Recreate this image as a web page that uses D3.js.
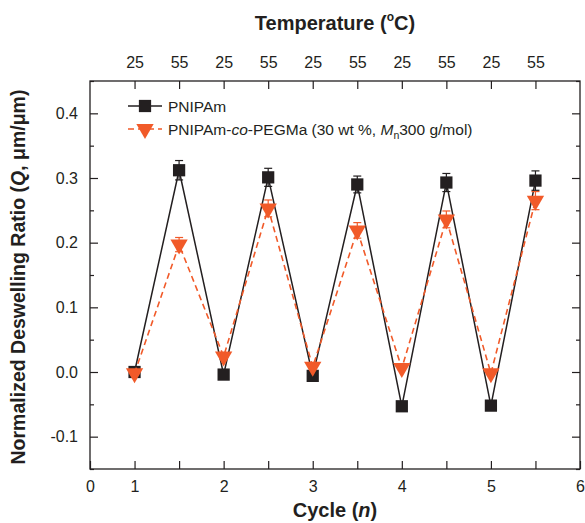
<!DOCTYPE html>
<html><head><meta charset="utf-8">
<script src="https://cdn.jsdelivr.net/npm/d3@7/dist/d3.min.js"></script>
<style>body{margin:0;background:#fff;} svg{display:block;font-family:"Liberation Sans",Arial,sans-serif;}</style>
</head><body>
<svg id="c" width="585" height="523"></svg>
<script>
const cycles = [1, 1.5, 2, 2.5, 3, 3.5, 4, 4.5, 5, 5.5];
const temps = ["25","55","25","55","25","55","25","55","25","55"];
const pnipam = [0.000, 0.312, -0.004, 0.301, -0.006, 0.290, -0.053, 0.293, -0.052, 0.296];
const pnipamErr = [0.003, 0.015, 0.003, 0.014, 0.003, 0.013, 0.003, 0.014, 0.003, 0.015];
const pegma = [-0.002, 0.197, 0.024, 0.253, 0.008, 0.219, 0.006, 0.236, -0.002, 0.265];
const pegmaErr = [0.003, 0.011, 0.004, 0.013, 0.003, 0.012, 0.003, 0.013, 0.003, 0.014];
const xTickValues = [0.5, 1, 2, 3, 4, 5, 6];
const xTickLabels = ["0", "1", "2", "3", "4", "5", "6"];
const xMinorTicks = [1.5, 2.5, 3.5, 4.5, 5.5];
const yTicks = [-0.1, 0.0, 0.1, 0.2, 0.3, 0.4];
const yMinorTicks = [-0.15, -0.05, 0.05, 0.15, 0.25, 0.35, 0.45];

const BLACK = "#231f20", ORANGE = "#f15a29";
const svg = d3.select("#c");
const L = 90, R = 580, T = 81, B = 469;
const x = d3.scaleLinear().domain([0.5, 6]).range([L, R]);
const y = d3.scaleLinear().domain([-0.15, 0.45]).range([B, T]);

// frame
svg.append("rect").attr("x", L).attr("y", T).attr("width", R - L).attr("height", B - T)
  .attr("fill", "none").attr("stroke", BLACK).attr("stroke-width", 1.3);

function tickStyle(g){ g.select(".domain").remove(); g.selectAll("line").attr("stroke", BLACK).attr("stroke-width", 1.2);
  g.selectAll("text").attr("fill", BLACK).style("font-size", "16px").style("font-family", "'Liberation Sans',Arial,sans-serif"); }

const fmtY = d => d3.format(".1f")(d).replace("\u2212", "-");

// bottom axis
svg.append("g").attr("transform", `translate(0,${B})`)
  .call(d3.axisBottom(x).tickValues(xTickValues).tickFormat((d, i) => xTickLabels[i]).tickSizeInner(-8).tickSizeOuter(0).tickPadding(12))
  .call(tickStyle);
svg.append("g").attr("transform", `translate(0,${B})`)
  .call(d3.axisBottom(x).tickValues(xMinorTicks).tickFormat("").tickSizeInner(-8).tickSizeOuter(0))
  .call(tickStyle);
// top axis
svg.append("g").attr("transform", `translate(0,${T})`)
  .call(d3.axisTop(x).tickValues(cycles).tickFormat((d, i) => temps[i]).tickSizeInner(-8).tickSizeOuter(0).tickPadding(13))
  .call(tickStyle);
// left axis
svg.append("g").attr("transform", `translate(${L},0)`)
  .call(d3.axisLeft(y).tickValues(yTicks).tickFormat(fmtY).tickSizeInner(-8).tickSizeOuter(0).tickPadding(12))
  .call(tickStyle);
svg.append("g").attr("transform", `translate(${L},0)`)
  .call(d3.axisLeft(y).tickValues(yMinorTicks).tickFormat("").tickSizeInner(-4).tickSizeOuter(0))
  .call(tickStyle);
// right axis
svg.append("g").attr("transform", `translate(${R},0)`)
  .call(d3.axisRight(y).tickValues(yTicks).tickFormat("").tickSizeInner(-8).tickSizeOuter(0))
  .call(tickStyle);
svg.append("g").attr("transform", `translate(${R},0)`)
  .call(d3.axisRight(y).tickValues(yMinorTicks).tickFormat("").tickSizeInner(-4).tickSizeOuter(0))
  .call(tickStyle);

// titles
const tTop = svg.append("text").attr("x", 335).attr("y", 30).attr("text-anchor", "middle")
  .style("font-size", "20px").style("font-weight", "bold").attr("fill", BLACK);
tTop.append("tspan").text("Temperature (");
tTop.append("tspan").text("o").style("font-size", "12px").attr("dy", -9);
tTop.append("tspan").text("C)").attr("dy", 9);

const tBot = svg.append("text").attr("x", 335).attr("y", 517).attr("text-anchor", "middle")
  .style("font-size", "20px").style("font-weight", "bold").attr("fill", BLACK);
tBot.append("tspan").text("Cycle (");
tBot.append("tspan").text("n").style("font-style", "italic");
tBot.append("tspan").text(")");

const tY = svg.append("text").attr("transform", `translate(25,${(T + B) / 2 + 2}) rotate(-90)`).attr("text-anchor", "middle")
  .style("font-size", "19.5px").style("font-weight", "bold").attr("fill", BLACK);
tY.append("tspan").text("Normalized Deswelling Ratio (");
tY.append("tspan").text("Q").style("font-style", "italic");
tY.append("tspan").text(", μm/μm)");

// data
const pts = (vals) => cycles.map((c, i) => [c, vals[i]]);
const line = d3.line().x(d => x(d[0])).y(d => y(d[1]));
const sq = d3.symbol().type(d3.symbolSquare).size(150);
const tri = d3.symbol().type(d3.symbolTriangle).size(130);

function errorBars(vals, errs, color){
  const g = svg.append("g").attr("stroke", color).attr("stroke-width", 1.2);
  cycles.forEach((c, i) => {
    const cx = x(c), y1 = y(vals[i] + errs[i]), y2 = y(vals[i] - errs[i]);
    g.append("line").attr("x1", cx).attr("x2", cx).attr("y1", y1).attr("y2", y2);
    g.append("line").attr("x1", cx - 4).attr("x2", cx + 4).attr("y1", y1).attr("y2", y1);
    g.append("line").attr("x1", cx - 4).attr("x2", cx + 4).attr("y1", y2).attr("y2", y2);
  });
}

svg.append("path").datum(pts(pnipam)).attr("d", line).attr("fill", "none").attr("stroke", BLACK).attr("stroke-width", 1.5);
errorBars(pnipam, pnipamErr, BLACK);
svg.append("g").selectAll("path").data(pts(pnipam)).join("path")
  .attr("d", sq).attr("transform", d => `translate(${x(d[0])},${y(d[1])})`).attr("fill", BLACK);

svg.append("path").datum(pts(pegma)).attr("d", line).attr("fill", "none").attr("stroke", ORANGE)
  .attr("stroke-width", 1.6).attr("stroke-dasharray", "6,4");
errorBars(pegma, pegmaErr, ORANGE);
svg.append("g").selectAll("path").data(pts(pegma)).join("path")
  .attr("d", tri).attr("transform", d => `translate(${x(d[0])},${y(d[1])}) rotate(180)`).attr("fill", ORANGE);

// legend
const lg = svg.append("g");
lg.append("line").attr("x1", 128).attr("x2", 162).attr("y1", 106).attr("y2", 106).attr("stroke", BLACK).attr("stroke-width", 1.5);
lg.append("path").attr("d", sq).attr("transform", "translate(145,106)").attr("fill", BLACK);
lg.append("text").attr("x", 168).attr("y", 111.5).style("font-size", "15.5px").attr("fill", BLACK).text("PNIPAm");
lg.append("line").attr("x1", 128).attr("x2", 162).attr("y1", 129).attr("y2", 129).attr("stroke", ORANGE).attr("stroke-width", 1.6).attr("stroke-dasharray", "6,4");
lg.append("path").attr("d", tri).attr("transform", "translate(145,129) rotate(180)").attr("fill", ORANGE);
const lt = lg.append("text").attr("x", 168).attr("y", 134.5).style("font-size", "15.5px").attr("fill", BLACK);
lt.append("tspan").text("PNIPAm-");
lt.append("tspan").text("co").style("font-style", "italic");
lt.append("tspan").text("-PEGMa (30 wt %, ");
lt.append("tspan").text("M").style("font-style", "italic");
lt.append("tspan").text("n").style("font-size", "10.5px").attr("dy", 4);
lt.append("tspan").text("300 g/mol)").attr("dy", -4);
</script>
</body></html>
